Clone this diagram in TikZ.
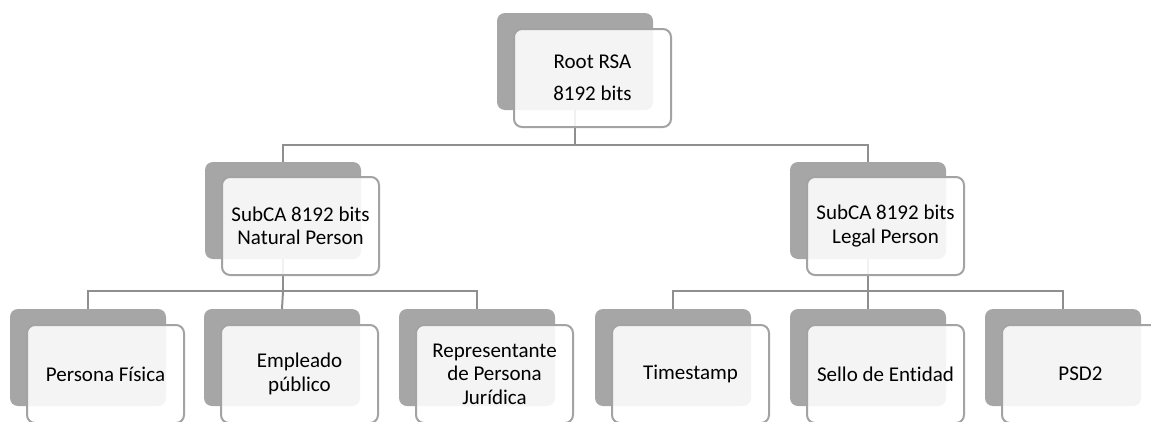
\documentclass[tikz,border=0pt]{standalone}
\usepackage{fontspec}
\setmainfont{Carlito}[Ligatures=NoCommon]
\definecolor{backgray}{HTML}{A6A6A6}
\definecolor{framegray}{HTML}{A3A3A3}
\definecolor{conngray}{HTML}{8F8F8F}
\begin{document}
\begin{tikzpicture}[x=1pt,y=-1pt,
  backbox/.style={rectangle, rounded corners=8pt, fill=backgray, minimum width=156pt, minimum height=97pt, anchor=north west, inner sep=0pt, outer sep=0pt},
  frontbox/.style={rectangle, rounded corners=8pt, fill=white, fill opacity=0.88, text opacity=1, draw=framegray, line width=2pt, minimum width=157pt, minimum height=98pt, anchor=north west, inner sep=2pt, outer sep=0pt, align=center, text=black, font=\fontsize{21pt}{23.5pt}\selectfont},
  conn/.style={draw=conngray, line width=2pt}]
\clip (0,0) rectangle (1151,421);
% back boxes
\node[backbox] (rootb) at (497,13) {};
\node[backbox] (subnb) at (205,162) {};
\node[backbox] (sublb) at (790,162) {};
\node[backbox] (pfb) at (10,309) {};
\node[backbox] (epb) at (204,309) {};
\node[backbox] (rpb) at (399,309) {};
\node[backbox] (tsb) at (595,309) {};
\node[backbox] (seb) at (790,309) {};
\node[backbox] (psb) at (985,309) {};
% connectors
\draw[conn] (rootb.south) -- ++(0,35) coordinate (bus1);
\draw[conn] (bus1) -| (subnb.north);
\draw[conn] (bus1) -| (sublb.north);
\draw[conn] (subnb.south) -- ++(0,32) coordinate (bus2);
\draw[conn] (bus2) -| (pfb.north);
\draw[conn] (bus2) -- (epb.north);
\draw[conn] (bus2) -| (rpb.north);
\draw[conn] (sublb.south) -- ++(0,32) coordinate (bus3);
\draw[conn] (bus3) -| (tsb.north);
\draw[conn] (bus3) -- (seb.north);
\draw[conn] (bus3) -| (psb.north);
% front boxes
\node[frontbox] (root) at ([shift={(17,16)}]rootb.north west) {Root RSA\\[8pt]8192 bits};
\node[frontbox] (subn) at ([shift={(17,15)}]subnb.north west) {SubCA 8192 bits\\Natural Person};
\node[frontbox] (subl) at ([shift={(17,15)}]sublb.north west) {SubCA 8192 bits\\Legal Person};
\node[frontbox] (pf) at ([shift={(17,16)}]pfb.north west) {Persona Física};
\node[frontbox] (ep) at ([shift={(17,16)}]epb.north west) {Empleado\\público};
\node[frontbox] (rp) at ([shift={(17,16)}]rpb.north west) {Representante\\de Persona\\Jurídica};
\node[frontbox] (ts) at ([shift={(17,16)}]tsb.north west) {Timestamp};
\node[frontbox] (se) at ([shift={(17,16)}]seb.north west) {Sello de Entidad};
\node[frontbox] (ps) at ([shift={(17,16)}]psb.north west) {PSD2};
\end{tikzpicture}
\end{document}
